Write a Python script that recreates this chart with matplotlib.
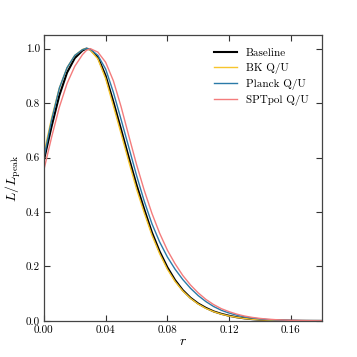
import numpy as np
import matplotlib
matplotlib.use('Agg')
import matplotlib.pyplot as plt

plt.rcParams['font.family'] = 'serif'
plt.rcParams['font.serif'] = ['cmr10']
plt.rcParams['mathtext.fontset'] = 'cm'
plt.rcParams['axes.unicode_minus'] = False
plt.rcParams['axes.formatter.use_mathtext'] = True

# likelihood curves (r grid, extra point at the peak)
r = [0.000, 0.005, 0.010, 0.015, 0.020, 0.025, 0.0275, 0.030, 0.035, 0.040, 0.045,
     0.050, 0.055, 0.060, 0.065, 0.070, 0.075, 0.080, 0.085, 0.090, 0.095,
     0.100, 0.105, 0.110, 0.115, 0.120, 0.125, 0.130, 0.135, 0.140, 0.145,
     0.150, 0.155, 0.160, 0.165, 0.170, 0.175, 0.180]

baseline = [0.590, 0.715, 0.828, 0.912, 0.965, 0.993, 1.000, 0.997, 0.968, 0.900, 0.805,
            0.703, 0.600, 0.500, 0.410, 0.325, 0.255, 0.197, 0.150, 0.113, 0.085,
            0.064, 0.048, 0.035, 0.026, 0.019, 0.0135, 0.0095, 0.0066, 0.0045, 0.0031,
            0.0021, 0.0014, 0.0009, 0.0006, 0.0004, 0.0003, 0.0002]

bk = [0.615, 0.745, 0.855, 0.930, 0.975, 0.997, 1.000, 0.995, 0.962, 0.890, 0.790,
      0.688, 0.585, 0.485, 0.397, 0.315, 0.247, 0.190, 0.145, 0.110, 0.083,
      0.062, 0.046, 0.034, 0.025, 0.018, 0.013, 0.009, 0.0062, 0.0042, 0.0029,
      0.0019, 0.0013, 0.0009, 0.0006, 0.0004, 0.0003, 0.0002]

planck = [0.600, 0.738, 0.855, 0.930, 0.975, 0.996, 1.000, 0.998, 0.975, 0.925, 0.840,
          0.740, 0.638, 0.535, 0.440, 0.357, 0.290, 0.235, 0.190, 0.152, 0.120,
          0.093, 0.071, 0.053, 0.039, 0.029, 0.021, 0.015, 0.0105, 0.0074, 0.0052,
          0.0036, 0.0025, 0.0017, 0.0011, 0.0007, 0.0005, 0.0003]

sptpol = [0.555, 0.675, 0.785, 0.872, 0.935, 0.978, 0.993, 1.000, 0.987, 0.950, 0.882,
          0.787, 0.680, 0.575, 0.480, 0.395, 0.322, 0.260, 0.210, 0.167, 0.132,
          0.103, 0.079, 0.060, 0.045, 0.034, 0.025, 0.018, 0.013, 0.0093, 0.0066,
          0.0047, 0.0033, 0.0023, 0.0016, 0.0011, 0.0008, 0.0005]

fig = plt.figure(figsize=(3.57, 3.57), dpi=100)
ax = fig.add_axes([0.123, 0.101, 0.778, 0.801])

ax.plot(r, baseline, color='black', lw=1.5, label='Baseline')
ax.plot(r, bk, color='#f7c52d', lw=1.0, label='BK Q/U')
ax.plot(r, planck, color='#2a7aa8', lw=1.0, label='Planck Q/U')
ax.plot(r, sptpol, color='#f47c7c', lw=1.0, label='SPTpol Q/U')

ax.set_xlim(0, 0.18)
ax.set_ylim(0, 1.05)
ax.set_xticks([0.00, 0.04, 0.08, 0.12, 0.16])
ax.set_xticklabels(['0.00', '0.04', '0.08', '0.12', '0.16'])
ax.set_yticks([0.0, 0.2, 0.4, 0.6, 0.8, 1.0])
ax.set_yticklabels(['0.0', '0.2', '0.4', '0.6', '0.8', '1.0'])
ax.tick_params(direction='in', top=True, right=True, length=4, width=0.8,
               labelsize=8, pad=3, color='#333333')
for s in ax.spines.values():
    s.set_color('#444444')
    s.set_linewidth(0.9)

ax.set_xlabel('$r$', fontsize=10, labelpad=1)
ax.set_ylabel(r'$L/L_{\rm peak}$', fontsize=10, labelpad=2)

ax.legend(loc='upper right', frameon=False, fontsize=8, handlelength=2.0,
          borderaxespad=0.8, labelspacing=0.45)

fig.savefig('out.png', dpi=100)
